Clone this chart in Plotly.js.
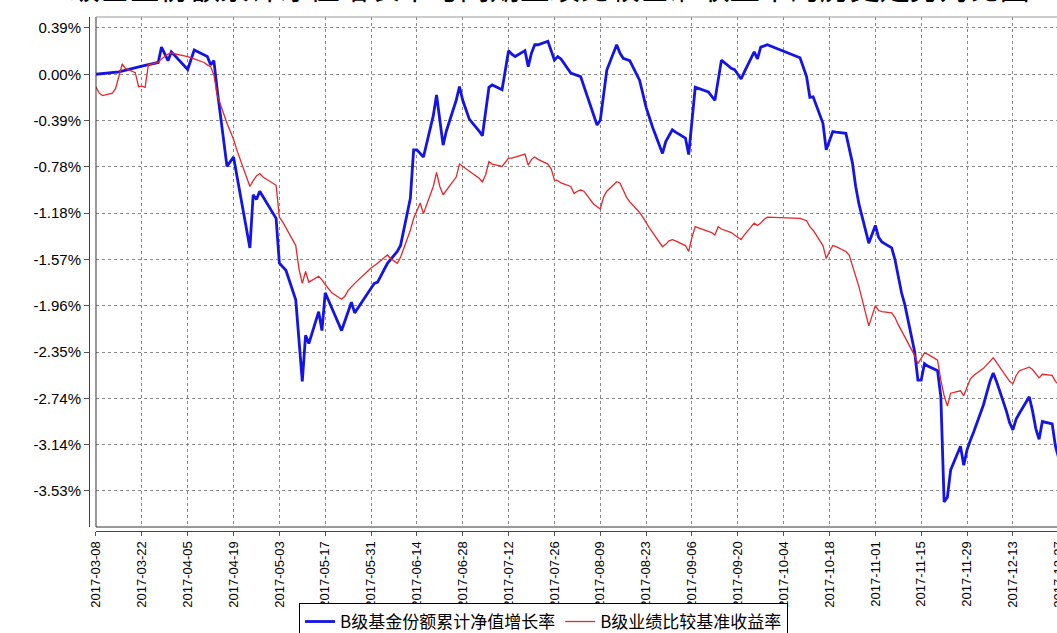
<!DOCTYPE html>
<html>
<head>
<meta charset="utf-8">
<script src="https://cdn.plot.ly/plotly-3.0.1.min.js"></script>
<style>
html, body { margin:0; padding:0; width:1057px; height:633px; overflow:hidden; background:#fff; }
#chart { position:absolute; left:0; top:-20px; width:1080px; height:700px; }
</style>
</head>
<body>
<div id="chart"></div>
<script>
const chartTitle = 'B级基金份额累计净值增长率与同期业绩比较基准收益率的历史走势对比图';
const seriesNames = ['B级基金份额累计净值增长率', 'B级业绩比较基准收益率'];

const navDates = ['2017-03-08','2017-03-15','2017-03-22','2017-03-27','2017-03-28','2017-03-30','2017-03-31','2017-04-05','2017-04-07','2017-04-11','2017-04-12','2017-04-13','2017-04-14','2017-04-17','2017-04-19','2017-04-24','2017-04-25','2017-04-26','2017-04-27','2017-05-02','2017-05-03','2017-05-04','2017-05-05','2017-05-08','2017-05-10','2017-05-11','2017-05-12','2017-05-15','2017-05-16','2017-05-17','2017-05-22','2017-05-25','2017-05-26','2017-06-01','2017-06-02','2017-06-05','2017-06-07','2017-06-08','2017-06-09','2017-06-12','2017-06-13','2017-06-14','2017-06-16','2017-06-19','2017-06-20','2017-06-22','2017-06-23','2017-06-26','2017-06-27','2017-06-28','2017-06-29','2017-06-30','2017-07-03','2017-07-04','2017-07-06','2017-07-07','2017-07-10','2017-07-11','2017-07-12','2017-07-13','2017-07-14','2017-07-17','2017-07-18','2017-07-19','2017-07-20','2017-07-21','2017-07-24','2017-07-26','2017-07-27','2017-07-28','2017-07-31','2017-08-03','2017-08-08','2017-08-09','2017-08-11','2017-08-14','2017-08-15','2017-08-16','2017-08-18','2017-08-21','2017-08-23','2017-08-25','2017-08-28','2017-08-29','2017-08-31','2017-09-01','2017-09-04','2017-09-05','2017-09-07','2017-09-11','2017-09-13','2017-09-15','2017-09-18','2017-09-19','2017-09-21','2017-09-22','2017-09-25','2017-09-26','2017-09-27','2017-09-29','2017-10-09','2017-10-11','2017-10-12','2017-10-13','2017-10-16','2017-10-17','2017-10-19','2017-10-20','2017-10-23','2017-10-25','2017-10-26','2017-10-27','2017-10-30','2017-11-01','2017-11-02','2017-11-03','2017-11-06','2017-11-07','2017-11-08','2017-11-09','2017-11-10','2017-11-13','2017-11-14','2017-11-15','2017-11-16','2017-11-17','2017-11-20','2017-11-21','2017-11-22','2017-11-23','2017-11-24','2017-11-27','2017-11-28','2017-11-29','2017-11-30','2017-12-01','2017-12-04','2017-12-05','2017-12-06','2017-12-07','2017-12-08','2017-12-11','2017-12-12','2017-12-13','2017-12-14','2017-12-15','2017-12-18','2017-12-19','2017-12-20','2017-12-21','2017-12-22','2017-12-25','2017-12-26','2017-12-27'];
const navGrowth = [0.00,0.02,0.07,0.10,0.23,0.115,0.19,0.04,0.205,0.15,0.08,0.115,-0.13,-0.78,-0.70,-1.47,-1.02,-1.06,-0.99,-1.22,-1.60,-1.63,-1.66,-1.91,-2.60,-2.21,-2.28,-2.01,-2.17,-1.85,-2.17,-1.93,-2.02,-1.77,-1.76,-1.60,-1.53,-1.50,-1.45,-1.05,-0.64,-0.64,-0.70,-0.35,-0.175,-0.60,-0.48,-0.22,-0.105,-0.22,-0.30,-0.38,-0.48,-0.52,-0.11,-0.09,-0.13,0.05,0.20,0.17,0.15,0.20,0.065,0.18,0.25,0.25,0.28,0.12,0.15,0.13,0.01,-0.02,-0.43,-0.39,0.036,0.25,0.18,0.135,0.115,-0.05,-0.28,-0.45,-0.67,-0.57,-0.47,-0.49,-0.54,-0.68,-0.11,-0.15,-0.22,0.12,0.05,0.04,-0.04,0.02,0.19,0.13,0.23,0.25,0.14,-0.02,-0.195,-0.19,-0.415,-0.64,-0.485,-0.49,-0.50,-0.75,-0.95,-1.10,-1.43,-1.28,-1.38,-1.42,-1.47,-1.57,-1.72,-1.85,-1.95,-2.35,-2.59,-2.59,-2.45,-2.47,-2.51,-2.73,-3.62,-3.58,-3.35,-3.15,-3.31,-3.18,-3.10,-3.03,-2.80,-2.70,-2.60,-2.53,-2.60,-2.85,-2.95,-3.01,-2.92,-2.87,-2.73,-2.85,-3.00,-3.09,-2.94,-2.96,-3.15,-3.25];

const benchDates = ['2017-03-08','2017-03-09','2017-03-10','2017-03-13','2017-03-14','2017-03-15','2017-03-16','2017-03-17','2017-03-20','2017-03-21','2017-03-22','2017-03-23','2017-03-24','2017-03-27','2017-03-28','2017-03-29','2017-03-30','2017-03-31','2017-04-05','2017-04-07','2017-04-10','2017-04-11','2017-04-12','2017-04-13','2017-04-14','2017-04-17','2017-04-18','2017-04-19','2017-04-20','2017-04-21','2017-04-24','2017-04-25','2017-04-26','2017-04-27','2017-04-28','2017-05-02','2017-05-03','2017-05-04','2017-05-05','2017-05-08','2017-05-09','2017-05-10','2017-05-11','2017-05-12','2017-05-15','2017-05-16','2017-05-17','2017-05-18','2017-05-19','2017-05-22','2017-05-23','2017-05-24','2017-05-25','2017-05-26','2017-05-31','2017-06-01','2017-06-02','2017-06-05','2017-06-06','2017-06-07','2017-06-08','2017-06-09','2017-06-12','2017-06-13','2017-06-14','2017-06-15','2017-06-16','2017-06-19','2017-06-20','2017-06-21','2017-06-22','2017-06-23','2017-06-26','2017-06-27','2017-06-28','2017-06-29','2017-06-30','2017-07-03','2017-07-04','2017-07-05','2017-07-06','2017-07-07','2017-07-10','2017-07-11','2017-07-12','2017-07-13','2017-07-14','2017-07-17','2017-07-18','2017-07-19','2017-07-20','2017-07-21','2017-07-24','2017-07-25','2017-07-26','2017-07-27','2017-07-28','2017-07-31','2017-08-01','2017-08-02','2017-08-03','2017-08-04','2017-08-07','2017-08-08','2017-08-09','2017-08-10','2017-08-11','2017-08-14','2017-08-15','2017-08-16','2017-08-17','2017-08-18','2017-08-21','2017-08-22','2017-08-23','2017-08-24','2017-08-25','2017-08-28','2017-08-29','2017-08-30','2017-08-31','2017-09-01','2017-09-04','2017-09-05','2017-09-06','2017-09-07','2017-09-08','2017-09-11','2017-09-12','2017-09-13','2017-09-14','2017-09-15','2017-09-18','2017-09-19','2017-09-20','2017-09-21','2017-09-22','2017-09-25','2017-09-26','2017-09-27','2017-09-28','2017-09-29','2017-10-09','2017-10-10','2017-10-11','2017-10-12','2017-10-13','2017-10-16','2017-10-17','2017-10-18','2017-10-19','2017-10-20','2017-10-23','2017-10-24','2017-10-25','2017-10-26','2017-10-27','2017-10-30','2017-10-31','2017-11-01','2017-11-02','2017-11-03','2017-11-06','2017-11-07','2017-11-08','2017-11-09','2017-11-10','2017-11-13','2017-11-14','2017-11-15','2017-11-16','2017-11-17','2017-11-20','2017-11-21','2017-11-22','2017-11-23','2017-11-24','2017-11-27','2017-11-28','2017-11-29','2017-11-30','2017-12-01','2017-12-04','2017-12-05','2017-12-06','2017-12-07','2017-12-08','2017-12-11','2017-12-12','2017-12-13','2017-12-14','2017-12-15','2017-12-18','2017-12-19','2017-12-20','2017-12-21','2017-12-22','2017-12-25','2017-12-26','2017-12-27'];
const benchReturn = [-0.105,-0.16,-0.18,-0.16,-0.12,-0.02,0.087,0.05,0.014,-0.105,-0.10,-0.11,0.08,0.10,0.13,0.15,0.17,0.18,0.15,0.13,0.10,0.08,0.065,-0.006,-0.175,-0.415,-0.485,-0.55,-0.64,-0.72,-0.95,-0.90,-0.86,-0.84,-0.87,-0.94,-1.21,-1.25,-1.30,-1.45,-1.65,-1.77,-1.67,-1.76,-1.71,-1.74,-1.78,-1.82,-1.85,-1.905,-1.88,-1.83,-1.80,-1.77,-1.64,-1.62,-1.60,-1.53,-1.56,-1.58,-1.60,-1.55,-1.32,-1.22,-1.15,-1.09,-1.18,-0.95,-0.83,-0.95,-1.02,-0.98,-0.87,-0.76,-0.78,-0.80,-0.82,-0.88,-0.91,-0.85,-0.74,-0.76,-0.78,-0.74,-0.71,-0.71,-0.70,-0.675,-0.77,-0.72,-0.70,-0.72,-0.76,-0.80,-0.895,-0.90,-0.92,-0.95,-1.01,-0.99,-0.98,-0.99,-1.10,-1.12,-1.14,-1.04,-0.99,-0.91,-0.92,-0.98,-1.04,-1.08,-1.17,-1.21,-1.26,-1.30,-1.34,-1.46,-1.44,-1.41,-1.40,-1.41,-1.45,-1.50,-1.38,-1.29,-1.30,-1.33,-1.34,-1.36,-1.29,-1.31,-1.34,-1.36,-1.38,-1.40,-1.36,-1.26,-1.28,-1.26,-1.23,-1.21,-1.22,-1.23,-1.24,-1.29,-1.32,-1.45,-1.56,-1.50,-1.45,-1.46,-1.50,-1.53,-1.62,-1.70,-1.80,-2.13,-2.05,-1.96,-2.00,-2.01,-2.02,-2.06,-2.12,-2.17,-2.22,-2.38,-2.45,-2.40,-2.36,-2.37,-2.42,-2.59,-2.72,-2.81,-2.70,-2.68,-2.72,-2.65,-2.58,-2.55,-2.49,-2.46,-2.43,-2.40,-2.44,-2.56,-2.60,-2.62,-2.55,-2.51,-2.48,-2.50,-2.54,-2.57,-2.54,-2.55,-2.60,-2.63];

const yTickVals = [0.392, 0, -0.392, -0.784, -1.176, -1.568, -1.96, -2.352, -2.744, -3.136, -3.528];
const yTickText = ['0.39%', '0.00%', '-0.39%', '-0.78%', '-1.18%', '-1.57%', '-1.96%', '-2.35%', '-2.74%', '-3.14%', '-3.53%'];

const traces = [
  { x: navDates, y: navGrowth, name: seriesNames[0], type: 'scatter', mode: 'lines',
    line: { color: '#1414e6', width: 2.8 } },
  { x: benchDates, y: benchReturn, name: seriesNames[1], type: 'scatter', mode: 'lines',
    line: { color: '#e8262a', width: 1.3 } }
];

const layout = {
  width: 1080, height: 700,
  margin: { l: 89, r: 15, t: 37, b: 149 },
  paper_bgcolor: '#fff', plot_bgcolor: '#fff',
  font: { family: 'Liberation Sans, Arial, sans-serif', color: '#000' },
  title: { text: chartTitle, font: { family: 'Noto Sans CJK SC', size: 30, color: '#000' },
           x: 0.5, xref: 'container', y: 0.988, yref: 'container', yanchor: 'middle' },
  showlegend: true,
  legend: { orientation: 'h', x: 0.4657, xanchor: 'center', y: -0.14, yanchor: 'top',
            bordercolor: '#000', borderwidth: 1, bgcolor: '#fff',
            font: { family: 'Noto Sans CJK SC', size: 17, color: '#000' },
            tracegroupgap: 0, itemwidth: 30 },
  xaxis: {
    type: 'date', domain: [0.00717, 1], anchor: 'free', position: 0,
    range: ['2017-03-08', '2017-12-28 22:00'],
    tick0: '2017-03-08', dtick: 14 * 86400000, tickformat: '%Y-%m-%d',
    tickangle: -90, ticks: 'outside', ticklen: 4, tickcolor: '#555',
    tickfont: { size: 13, family: 'Liberation Sans, Arial, sans-serif', color: '#000' },
    showline: true, linecolor: '#444', linewidth: 1,
    showgrid: true, gridcolor: '#8a8a8a', gridwidth: 1, griddash: 'dot',
    zeroline: false
  },
  yaxis: {
    domain: [0.00778, 1], anchor: 'free', position: 0,
    range: [-3.833, 0.485],
    tickmode: 'array', tickvals: yTickVals, ticktext: yTickText,
    ticks: 'outside', ticklen: 5, tickcolor: '#555',
    tickfont: { size: 15, family: 'Liberation Sans, Arial, sans-serif', color: '#000' },
    showline: true, linecolor: '#444', linewidth: 1,
    showgrid: true, gridcolor: '#8a8a8a', gridwidth: 1, griddash: '3px,3px',
    zeroline: false
  },
  shapes: [
    { type: 'line', xref: 'x domain', yref: 'y domain', x0: 0, x1: 0, y0: 0, y1: 1, line: { color: '#333', width: 1 } },
    { type: 'line', xref: 'x domain', yref: 'y domain', x0: 0, x1: 1, y0: 0, y1: 0, line: { color: '#333', width: 1 } },
    { type: 'line', xref: 'x domain', yref: 'y domain', x0: 0, x1: 1, y0: 1, y1: 1, line: { color: '#999', width: 1 } },
    { type: 'line', xref: 'x domain', yref: 'y domain', x0: 1, x1: 1, y0: 0, y1: 1, line: { color: '#999', width: 1 } }
  ]
};

Plotly.newPlot('chart', traces, layout, { displayModeBar: false, staticPlot: true });
</script>
</body>
</html>
